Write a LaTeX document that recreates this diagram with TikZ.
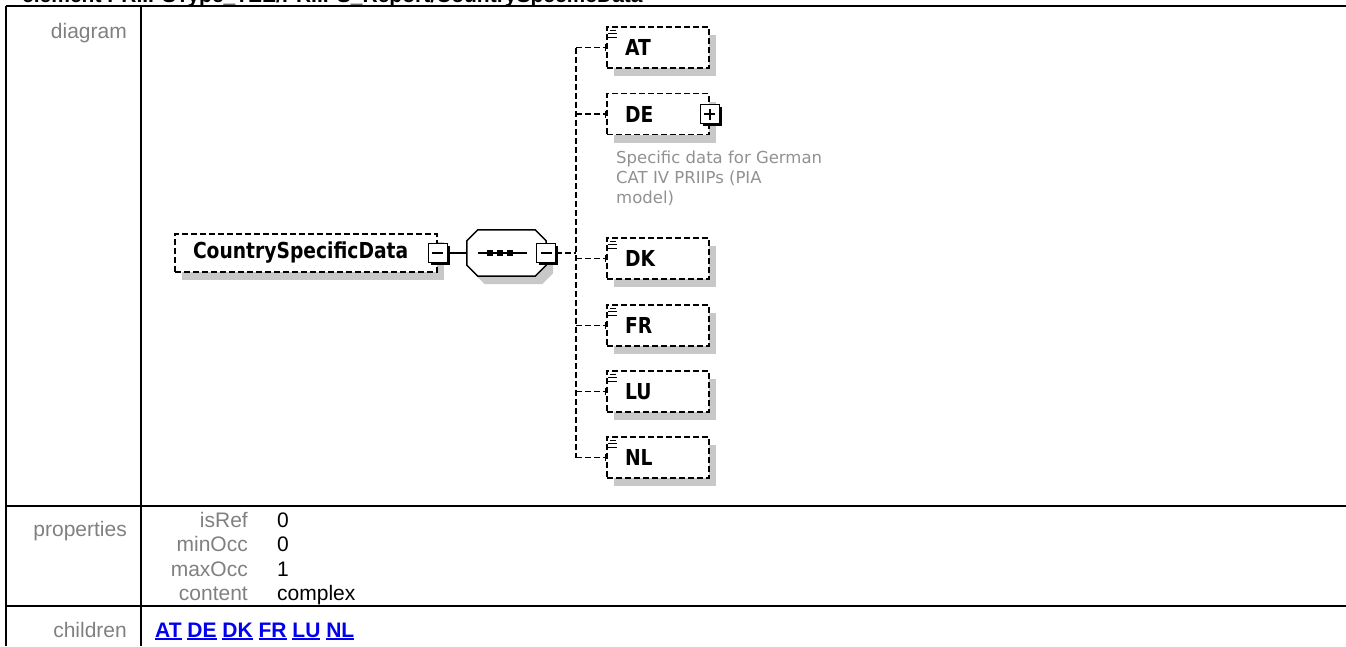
\documentclass[tikz,border=0pt]{standalone}
\usepackage{fontspec}
\usepackage{tikz}
\usepackage{xcolor}
\usetikzlibrary{shadows,arrows.meta}
\setmainfont{Liberation Sans}
\newfontfamily\diafont{DejaVu Sans}[FakeStretch=0.85]
\newfontfamily\descfont{DejaVu Sans}
\definecolor{labelgray}{RGB}{128,128,128}
\definecolor{descgray}{RGB}{145,145,145}
\definecolor{linkblue}{RGB}{0,0,238}
\definecolor{shadowgray}{RGB}{200,200,200}
\newcommand\lnk[1]{\setbox0\hbox{#1}\rlap{\rule[-2.6pt]{\wd0}{1.8pt}}\box0\relax}
\tikzset{
  tableline/.style={line width=2.6pt},
  rowlabel/.style={anchor=base east,text=labelgray,inner sep=0pt,font=\fontsize{21}{25}\selectfont},
  propval/.style={anchor=base west,inner sep=0pt,font=\fontsize{21}{25}\selectfont},
  boxshadow/.style={drop shadow={shadow xshift=7pt,shadow yshift=-8pt,fill=shadowgray,opacity=1}},
  elembox/.style={draw,fill=white,line width=1.7pt,dash pattern=on 6pt off 3pt,
    minimum height=41pt,inner xsep=18pt,inner ysep=0pt,text width=66pt,align=left,
    font=\diafont\bfseries\fontsize{22}{26}\selectfont,boxshadow},
  seqbox/.style={minimum width=79pt,minimum height=46pt,inner sep=0pt},
  togbox/.style={draw,fill=white,line width=1.4pt,minimum size=19pt,inner sep=0pt,
    drop shadow={shadow xshift=2.5pt,shadow yshift=-2.5pt,fill=black,opacity=1}},
  minus/.style={togbox,path picture={\draw[line width=1.4pt]
    ([xshift=-5.5pt]path picture bounding box.center) -- ([xshift=5.5pt]path picture bounding box.center);}},
  plus/.style={togbox,path picture={\draw[line width=1.4pt]
    ([xshift=-5.5pt]path picture bounding box.center) -- ([xshift=5.5pt]path picture bounding box.center)
    ([yshift=-5.5pt]path picture bounding box.center) -- ([yshift=5.5pt]path picture bounding box.center);}},
  branch/.style={line width=1.7pt,dash pattern=on 6pt off 3pt},
}
\begin{document}
\begin{tikzpicture}[x=1pt,y=-1pt]
\useasboundingbox (0,0) rectangle (1346,646);
\clip (0,0) rectangle (1346,646);
% header line, cut off at the top
\node[anchor=base west,inner sep=0pt,font=\bfseries\fontsize{21}{25}\selectfont] (title) at (22,2)
  {element PRIIPSType\_TEE/PRIIPS\_Report/CountrySpecificData};
% table
\draw[tableline] (6,6) -- (1346,6);
\draw[tableline] (6,506) -- (1346,506);
\draw[tableline] (6,606) -- (1346,606);
\draw[tableline] (6,6) -- (6,646);
\draw[tableline] (141,6) -- (141,646);
\node[rowlabel] (lbldiagram) at (127,38) {diagram};
\node[rowlabel] (lblprops) at (127,536) {properties};
\node[rowlabel] (lblchildren) at (127,637) {children};
\foreach \k/\v/\y in {isRef/0/527,minOcc/0/551.5,maxOcc/1/576,content/complex/600}{
  \node[rowlabel] (key\k) at (248,\y) {\k};
  \node[propval] (val\k) at (277,\y) {\v};
}
\node[propval,text=linkblue,font=\bfseries\fontsize{21}{25}\selectfont] (kids) at (155,637)
  {\lnk{AT} \lnk{DE} \lnk{DK} \lnk{FR} \lnk{LU} \lnk{NL}};
% diagram
\node[elembox,minimum height=38pt,text width=226pt] (csd) at (306,253) {CountrySpecificData};
\node[minus] (csdtog) at (csd.east) {};
\node[seqbox] (seq) at (506.5,253) {};
\draw[line width=1.5pt,fill=white,boxshadow]
  ([xshift=11pt]seq.north west) -- ([xshift=-11pt]seq.north east) -- ([yshift=-11pt]seq.north east)
  -- ([yshift=11pt]seq.south east) -- ([xshift=-11pt]seq.south east) -- ([xshift=11pt]seq.south west)
  -- ([yshift=11pt]seq.south west) -- ([yshift=-11pt]seq.north west) -- cycle;
\node[minus] (seqtog) at (seq.east) {};
\draw[line width=1.4pt] ([xshift=-29pt]seq.center) -- ([xshift=20pt]seq.center);
\foreach \dx in {-16.5,-6.5,3.5}
  \fill ([xshift=\dx pt]seq.center) +(-3,-3) rectangle +(3,3);
\draw[line width=1.5pt] (csdtog.east) -- (seq.west);
\coordinate (trunk) at (576,253);
\node[elembox] (at) at (658,47.5) {AT};
\node[elembox] (de) at (658,114) {DE};
\node[plus] (detog) at (de.east) {};
\node[elembox] (dk) at (658,258.5) {DK};
\node[elembox] (fr) at (658,325.5) {FR};
\node[elembox] (lu) at (658,391.5) {LU};
\node[elembox] (nl) at (658,457.5) {NL};
\node[anchor=north west,inner sep=0pt,align=left,text=descgray,
  font=\descfont\fontsize{16.5}{20}\selectfont] (dedesc) at (616,151)
  {Specific data for German\\CAT IV PRIIPs (PIA\\model)};
\draw[branch] (seqtog.east) -- (trunk);
\draw[branch] (trunk |- at.west) -- (trunk |- nl.west);
\foreach \n in {at,de,dk,fr,lu,nl}
  \draw[branch,-{Bar[width=7pt,line width=1.5pt]}] (trunk |- \n.west) -- (\n.west);
% list icons
\foreach \n in {at,dk,fr,lu,nl}{
  \draw[line width=1.3pt] ([xshift=4pt,yshift=-4pt]\n.north west) -- ++(6,0);
  \draw[line width=1.3pt] ([xshift=2pt,yshift=-7.5pt]\n.north west) -- ++(9,0);
  \draw[line width=1.3pt] ([xshift=2pt,yshift=-11pt]\n.north west) -- ++(9,0);
}
\end{tikzpicture}
\end{document}
